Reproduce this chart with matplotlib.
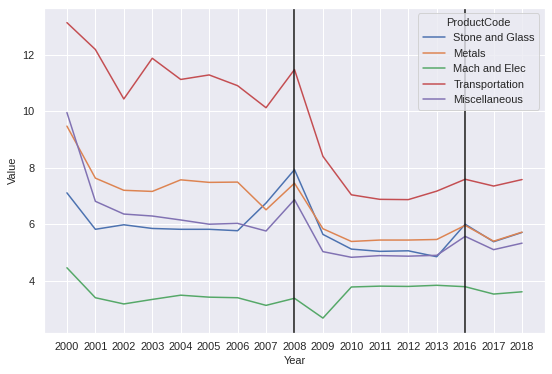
import matplotlib
matplotlib.use('Agg')
import matplotlib.pyplot as plt
import seaborn as sns

years = ['2000', '2001', '2002', '2003', '2004', '2005', '2006', '2007', '2008',
         '2009', '2010', '2011', '2012', '2013', '2016', '2017', '2018']

stone_glass = [7.11, 5.82, 5.98, 5.85, 5.82, 5.82, 5.77, 6.75, 7.93,
               5.64, 5.12, 5.04, 5.06, 4.85, 6.00, 5.38, 5.71]
metals = [9.47, 7.63, 7.20, 7.16, 7.57, 7.48, 7.49, 6.51, 7.45,
          5.84, 5.39, 5.44, 5.44, 5.46, 5.96, 5.40, 5.72]
mach_elec = [4.46, 3.40, 3.18, 3.34, 3.49, 3.42, 3.40, 3.13, 3.38,
             2.68, 3.78, 3.81, 3.80, 3.84, 3.79, 3.53, 3.61]
transportation = [13.13, 12.18, 10.43, 11.87, 11.12, 11.28, 10.90, 10.12, 11.47,
                  8.40, 7.04, 6.88, 6.87, 7.17, 7.59, 7.35, 7.58]
miscellaneous = [9.95, 6.81, 6.36, 6.29, 6.15, 6.00, 6.03, 5.76, 6.87,
                 5.03, 4.83, 4.89, 4.87, 4.90, 5.57, 5.10, 5.33]

series_names = ['Stone and Glass', 'Metals', 'Mach and Elec', 'Transportation', 'Miscellaneous']
series_values = [stone_glass, metals, mach_elec, transportation, miscellaneous]
marked_years = ['2008', '2016']

sns.set_theme(style='darkgrid')
plt.rcParams['font.family'] = ['Liberation Sans', 'DejaVu Sans']

fig, ax = plt.subplots(figsize=(552 / 72, 374 / 72), dpi=72)
for name, vals in zip(series_names, series_values):
    ax.plot(years, vals, label=name)

for y in marked_years:
    ax.axvline(years.index(y), color='k', linewidth=1.8, alpha=0.85)

ax.set_xlabel('Year', fontsize=11)
ax.set_ylabel('Value', fontsize=11)
ax.set_yticks([4, 6, 8, 10, 12])
ax.legend(title='ProductCode', loc='upper right', fontsize=11, title_fontsize=11)

plt.subplots_adjust(left=0.08, right=0.987, bottom=0.11, top=0.979)
plt.savefig('out.png', dpi=72)
